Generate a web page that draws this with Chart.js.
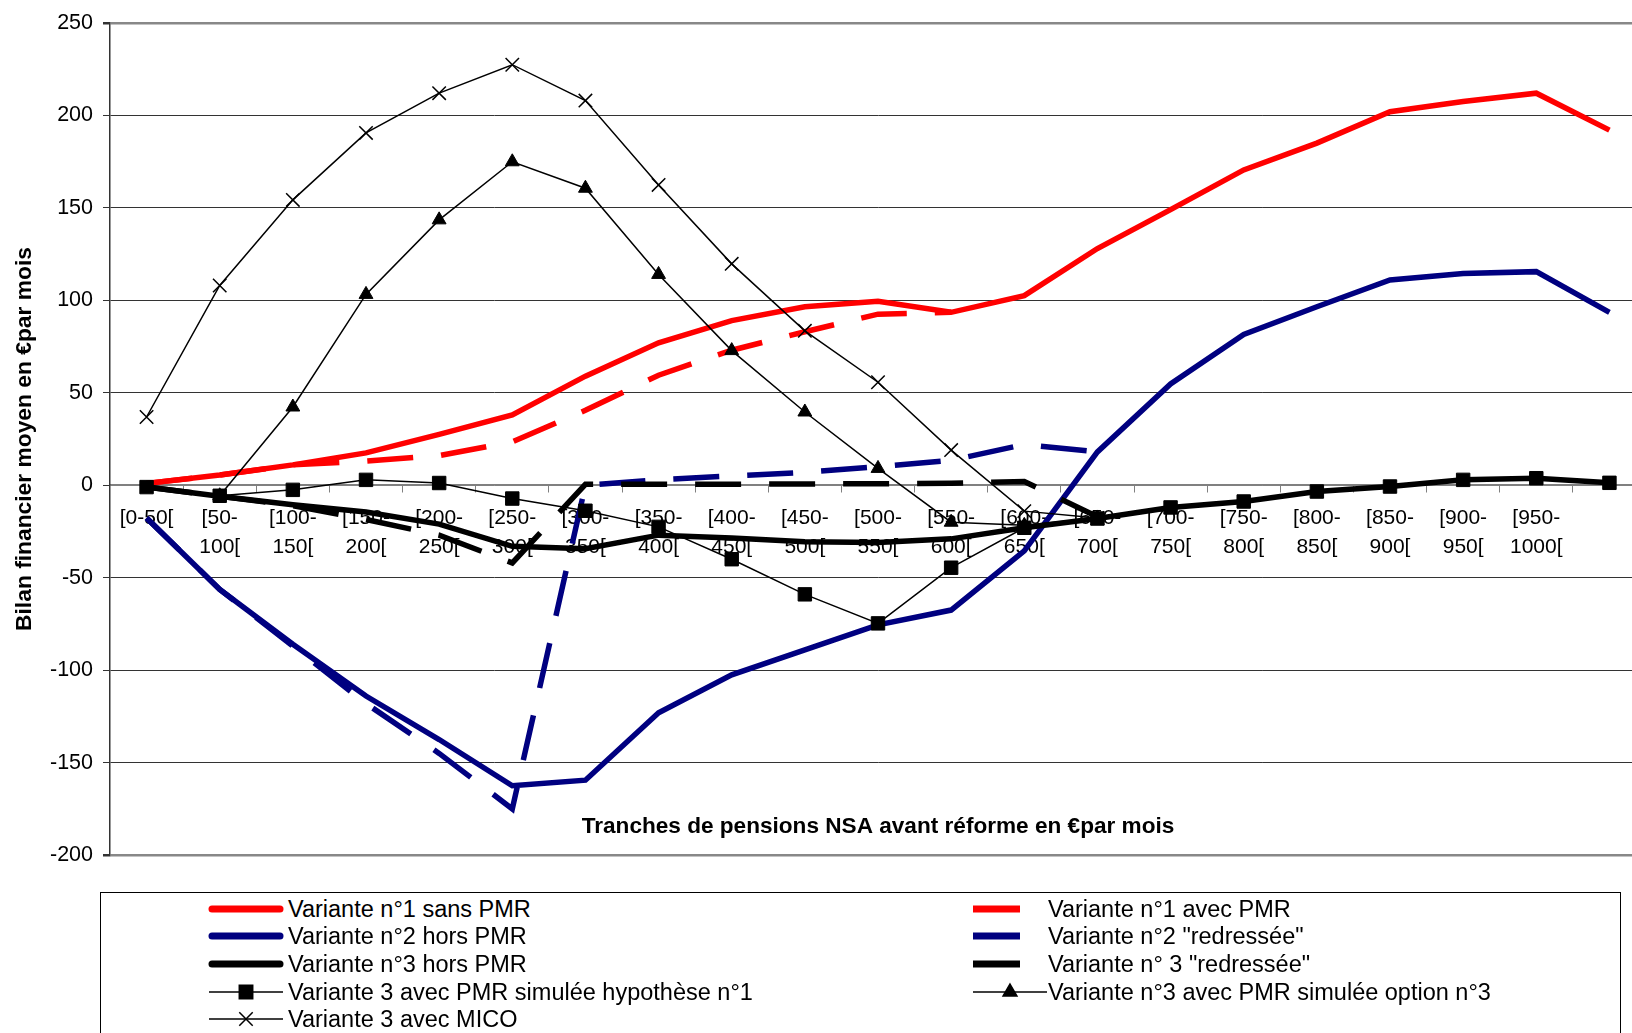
<!DOCTYPE html>
<html>
<head>
<meta charset="utf-8">
<script src="https://cdn.jsdelivr.net/npm/chart.js@4.4.0/dist/chart.umd.min.js"></script>
<style>
    html, body { margin: 0; padding: 0; background: #fff; width: 1632px; height: 1033px; overflow: hidden; position: relative; font-family: "Liberation Sans", Arial, sans-serif; }
    #wrap { position: absolute; left: 0; top: 0; width: 1660px; height: 878px; }
    #legend { position: absolute; left: 100px; top: 892px; width: 1521px; height: 170px; border: 1.5px solid #000; box-sizing: border-box; }
    .item { position: absolute; left: 0; height: 28px; width: 1500px; }
    .item canvas { position: absolute; top: 0; }
    .item span { position: absolute; top: 0; white-space: nowrap; font-size: 23.5px; line-height: 28px; color: #000; }
</style>
</head>
<body>
<div id="wrap"><canvas id="chart" width="1660" height="878"></canvas></div>
<div id="legend"></div>
<script>
// Tranches de pensions (catégories)
const categories = [
    '[0-50[', ['[50-', '100['], ['[100-', '150['], ['[150-', '200['], ['[200-', '250['],
    ['[250-', '300['], ['[300-', '350['], ['[350-', '400['], ['[400-', '450['], ['[450-', '500['],
    ['[500-', '550['], ['[550-', '600['], ['[600-', '650['], ['[650-', '700['], ['[700-', '750['],
    ['[750-', '800['], ['[800-', '850['], ['[850-', '900['], ['[900-', '950['], ['[950-', '1000['], ''
];

// Valeurs (€ par mois)
const variante1SansPMR = [1, 5.5, 11, 17.5, 27.5, 38, 59, 77, 89, 96.5, 99.5, 93.5, 102.5, 128, 149, 170.5, 185, 202, 207.5, 212, 192];
const variante1AvecPMR = [1, 5.5, 11, 13, 16, 23.5, 40.5, 59.5, 73, 83, 92.5, 93.5, null, null, null, null, null, null, null, null, null];
const variante2HorsPMR = [-17.7, -56.3, -86, -114, -137.5, -162.5, -159.5, -123, -102.5, -89, -75.5, -67.5, -35.5, 18, 54.8, 81.5, 96.5, 111, 114.5, 115.5, 93.5];
const variante2Redressee = [-17.7, -56.3, -87, -118, -145, -175, 0, 3, 5, 7, 10, 13.5, 22, 18, null, null, null, null, null, null, null];
const variante3HorsPMR = [-1, -6, -10.6, -14.5, -21, -33, -34.3, -27, -28.5, -30.5, -31, -29, -23, -18, -12, -8.8, -3.4, -0.7, 2.9, 3.8, 1.3];
const variante3Redressee = [-1, -6, -11, -18.5, -27, -42, 0.5, 0.5, 0.5, 0.7, 0.8, 1.1, 2, -17, null, null, null, null, null, null, null];
const variante3Hypothese1 = [-1, -5.7, -2.5, 2.9, 1.2, -7.2, -13.8, -22.5, -40, -59, -74.7, -44.6, -23, -18, -12, -8.8, -3.4, -0.7, 2.9, 3.8, 1.3];
const variante3Option3 = [null, -5.7, 42.3, 103.2, 143.5, 174.9, 160.6, 114, 72.8, 39.6, 9.1, -20, -21.7, -17.7, null, null, null, null, null, null, null];
const variante3MICO = [36.9, 108, 154.3, 190.5, 212, 227.4, 208, 162.4, 119.7, 83.5, 55.7, 19, -14, -17.7, null, null, null, null, null, null, null];

const yTicksMin = -200;
const yTicksMax = 250;
const yTicksStep = 50;

const xAxisTitle = 'Tranches de pensions NSA avant réforme en €par mois';
const yAxisTitle = 'Bilan financier moyen en €par mois';

const FONT = '"Liberation Sans", Arial, sans-serif';
const RED = '#ff0000';
const NAVY = '#000080';
const BLACK = '#000000';
const DASH = [46, 28];

// style de chaque série (ordre Excel : colonne gauche / droite de la légende)
const series = [
    { label: 'Variante n°1 sans PMR', data: variante1SansPMR, color: RED, width: 5.5, dash: [] },
    { label: 'Variante n°1 avec PMR', data: variante1AvecPMR, color: RED, width: 5.5, dash: DASH },
    { label: 'Variante n°2 hors PMR', data: variante2HorsPMR, color: NAVY, width: 5.5, dash: [] },
    { label: 'Variante n°2 "redressée"', data: variante2Redressee, color: NAVY, width: 5.5, dash: DASH },
    { label: 'Variante n°3 hors PMR', data: variante3HorsPMR, color: BLACK, width: 5.5, dash: [] },
    { label: 'Variante n° 3 "redressée"', data: variante3Redressee, color: BLACK, width: 5.5, dash: DASH },
    { label: 'Variante 3 avec PMR simulée hypothèse n°1', data: variante3Hypothese1, color: BLACK, width: 1.5, dash: [], marker: 'rect', radius: 9.5 },
    { label: 'Variante n°3 avec PMR simulée option n°3', data: variante3Option3, color: BLACK, width: 1.5, dash: [], marker: 'triangle', radius: 8 },
    { label: 'Variante 3 avec MICO', data: variante3MICO, color: BLACK, width: 1.5, dash: [], marker: 'crossRot', radius: 9.5 }
];

const datasets = series.map((s, i) => ({
    label: s.label,
    data: s.data,
    borderColor: s.color,
    backgroundColor: s.color,
    borderWidth: s.width,
    borderDash: s.dash,
    borderCapStyle: 'butt',
    borderJoinStyle: 'miter',
    tension: 0,
    fill: false,
    spanGaps: false,
    pointStyle: s.marker || 'circle',
    pointRadius: s.marker ? s.radius : 0,
    pointBorderWidth: s.marker === 'crossRot' ? 1.5 : 1,
    pointBackgroundColor: s.color,
    pointBorderColor: s.color,
    order: series.length - i // les dernières séries passent devant
}));

// titre de l'axe X dessiné dans la zone du graphique, comme sur l'original
const xTitlePlugin = {
    id: 'xTitle',
    afterDraw(chart) {
        const { ctx, chartArea } = chart;
        ctx.save();
        ctx.font = 'bold 22.6px ' + FONT;
        ctx.fillStyle = '#000';
        ctx.textAlign = 'center';
        ctx.textBaseline = 'middle';
        ctx.fillText(xAxisTitle, (chartArea.left + chartArea.right) / 2, chartArea.bottom - 28);
        ctx.restore();
    }
};

new Chart(document.getElementById('chart').getContext('2d'), {
    type: 'line',
    data: { labels: categories, datasets: datasets },
    plugins: [xTitlePlugin],
    options: {
        responsive: false,
        animation: false,
        devicePixelRatio: 1,
        layout: { padding: { top: 17, right: 14, bottom: 9, left: 0 } },
        plugins: { legend: { display: false }, tooltip: { enabled: false } },
        scales: {
            x: {
                type: 'category',
                position: { y: 0 },
                offset: true,
                afterFit: (scale) => { scale.height = 0; },
                grid: { offset: true, drawOnChartArea: false, drawTicks: true, tickLength: 7, color: '#808080' },
                border: { display: true, color: '#808080', width: 1.5 },
                ticks: {
                    autoSkip: false, maxRotation: 0, minRotation: 0,
                    color: '#000', padding: 11,
                    font: { family: FONT, size: 21, lineHeight: 1.4 }
                }
            },
            y: {
                position: 'left',
                min: yTicksMin,
                max: yTicksMax,
                afterFit: (scale) => { scale.width = 110; },
                ticks: { stepSize: yTicksStep, color: '#000', padding: 10, font: { family: FONT, size: 21.5 } },
                grid: {
                    drawTicks: true, tickLength: 7, tickColor: '#333',
                    color: (c) => (c.tick.value === yTicksMax || c.tick.value === yTicksMin) ? '#888888' : (c.tick.value === 0 ? '#808080' : '#333333'),
                    lineWidth: (c) => (c.tick.value === yTicksMax || c.tick.value === yTicksMin) ? 2.5 : 1
                },
                border: { display: true, color: '#333', width: 1.5 },
                title: { display: true, text: yAxisTitle, color: '#000', padding: { top: 11, bottom: 0 }, font: { family: FONT, size: 22.8, weight: 'bold' } }
            }
        }
    }
});

// Légende encadrée, deux colonnes
const legend = document.getElementById('legend');
series.forEach((s, i) => {
    const col = i % 2;
    const row = Math.floor(i / 2);
    const item = document.createElement('div');
    item.className = 'item';
    item.style.top = (15.5 + row * 27.7 - 14) + 'px';

    const cv = document.createElement('canvas');
    cv.width = 82; cv.height = 28;
    cv.style.left = (col === 0 ? 104 : 868) + 'px';
    const c = cv.getContext('2d');
    c.strokeStyle = s.color;
    c.fillStyle = s.color;
    if (s.marker) {
        c.lineWidth = 1.5;
        c.beginPath(); c.moveTo(4, 14); c.lineTo(78, 14); c.stroke();
        Chart.helpers.drawPoint(c, { pointStyle: s.marker, radius: s.radius, borderWidth: s.marker === 'crossRot' ? 1.5 : 1 }, 41, 14);
    } else if (s.dash.length) {
        c.fillRect(4, 10.5, 47, 7);
    } else {
        c.lineWidth = 7;
        c.lineCap = 'round';
        c.beginPath(); c.moveTo(7, 14); c.lineTo(75, 14); c.stroke();
    }
    item.appendChild(cv);

    const txt = document.createElement('span');
    txt.textContent = s.label;
    txt.style.left = (col === 0 ? 187 : 947) + 'px';
    item.appendChild(txt);
    legend.appendChild(item);
});
</script>
</body>
</html>
